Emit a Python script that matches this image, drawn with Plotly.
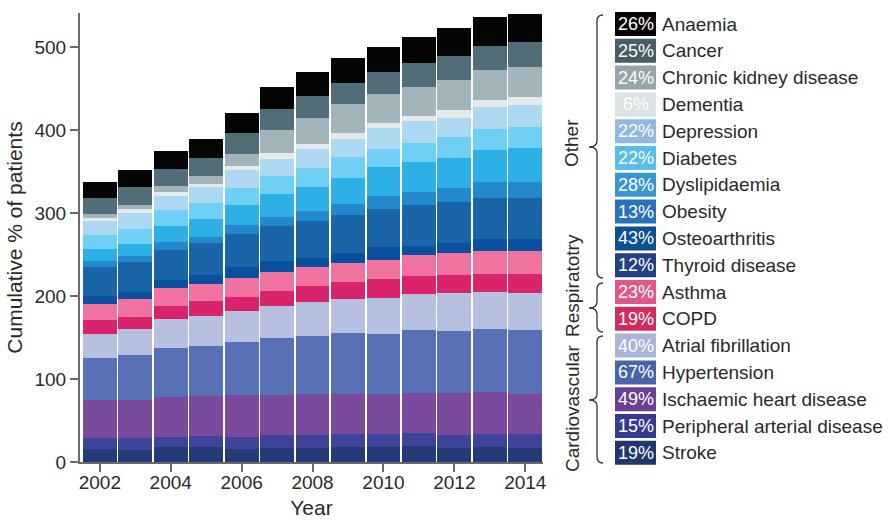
import plotly.graph_objects as go

# ---- data -------------------------------------------------------------
years = list(range(2002, 2015))

stroke = [15.7, 14.5, 18.1, 18.1, 15.7, 16.9, 16.9, 18.1, 18.1, 19.3, 16.9, 18.1, 16.9]
peripheral_arterial = [13.2, 14.4, 12.0, 13.2, 14.4, 15.6, 15.6, 15.6, 15.6, 15.6, 15.6, 15.6, 16.8]
ischaemic_heart = [45.8, 45.8, 48.2, 48.2, 50.6, 48.2, 49.4, 48.2, 48.2, 48.2, 50.6, 50.6, 48.2]
hypertension = [50.6, 54.2, 59.0, 60.3, 63.9, 68.7, 69.9, 73.5, 72.3, 75.9, 74.7, 75.9, 77.1]
atrial_fibrillation = [28.9, 31.3, 35.0, 36.1, 37.3, 38.6, 41.0, 41.0, 43.4, 43.4, 45.8, 44.6, 44.6]
copd = [16.9, 14.5, 15.7, 18.1, 16.9, 18.0, 19.2, 20.5, 22.9, 21.7, 21.7, 21.7, 22.9]
asthma = [19.3, 21.7, 21.6, 20.5, 22.9, 22.9, 22.9, 22.9, 22.9, 25.3, 26.5, 27.7, 27.7]
thyroid = [9.6, 8.4, 9.7, 10.8, 13.2, 13.3, 10.9, 12.0, 15.6, 10.8, 12.1, 14.5, 14.5]
osteoarthritis = [34.9, 36.2, 36.1, 38.6, 39.8, 42.1, 44.6, 45.8, 45.8, 49.4, 49.4, 49.4, 49.4]
obesity = [7.3, 7.2, 9.6, 7.2, 10.8, 10.9, 12.0, 13.2, 15.7, 15.7, 16.8, 19.2, 19.2]
dyslipidaemia = [14.4, 14.5, 19.3, 21.7, 24.1, 27.7, 28.9, 31.4, 34.9, 36.1, 36.2, 38.6, 41.0]
diabetes = [16.9, 18.0, 19.3, 19.2, 20.5, 21.7, 22.9, 25.3, 21.7, 22.9, 25.3, 25.3, 25.3]
depression = [16.9, 19.3, 16.9, 19.3, 21.7, 20.5, 22.9, 21.7, 25.3, 26.5, 22.9, 26.5, 26.5]
dementia = [3.6, 4.8, 4.8, 3.6, 4.8, 7.2, 6.0, 7.2, 6.0, 6.1, 9.6, 8.4, 9.7]
chronic_kidney = [4.8, 4.8, 7.2, 9.7, 14.5, 27.7, 31.4, 34.9, 35.0, 34.9, 36.1, 36.2, 36.1]
cancer = [19.3, 21.7, 20.5, 21.7, 25.3, 25.3, 26.5, 25.3, 26.5, 28.9, 29.0, 28.9, 30.1]
anaemia = [19.2, 20.5, 21.7, 22.9, 24.1, 26.5, 28.9, 30.1, 30.1, 31.3, 33.7, 34.9, 33.8]

# stacking order, bottom to top
series_names = [
    "Stroke", "Peripheral arterial disease", "Ischaemic heart disease",
    "Hypertension", "Atrial fibrillation", "COPD", "Asthma", "Thyroid disease",
    "Osteoarthritis", "Obesity", "Dyslipidaemia", "Diabetes", "Depression",
    "Dementia", "Chronic kidney disease", "Cancer", "Anaemia",
]
series_values = [
    stroke, peripheral_arterial, ischaemic_heart, hypertension,
    atrial_fibrillation, copd, asthma, thyroid, osteoarthritis, obesity,
    dyslipidaemia, diabetes, depression, dementia, chronic_kidney, cancer,
    anaemia,
]
bar_colors = [
    "#253a78", "#3d4499", "#7a4a9c", "#5870b5", "#b7c0e0", "#d9246b",
    "#ef739e", "#0b50a0", "#1a65a8", "#2289cc", "#2cb0e6", "#6fcff5",
    "#acd8f2", "#e6e9ea", "#a3b5bb", "#516d78", "#050505",
]

# key entries, top to bottom
key_names = list(reversed(series_names))
key_percent = ["26%", "25%", "24%", "6%", "22%", "22%", "28%", "13%", "43%",
               "12%", "23%", "19%", "40%", "67%", "49%", "15%", "19%"]
key_colors = [
    "#050505", "#455e68", "#95a7ad", "#dde2e4", "#8fb9e0", "#56bdec",
    "#3a95d4", "#2672bb", "#0d4f8f", "#243f84", "#e0578a", "#d42a5c",
    "#abb4dc", "#4a63ad", "#6a3f96", "#333a8f", "#23376e",
]
groups = ["Other", "Respiratotry", "Cardiovascular"]

# ---- layout geometry (pixels) ---------------------------------------
W, H = 888, 520
L, R, T, B = 80, 345, 13, 58
plot_w = W - L - R
plot_h = H - T - B


def px(x):
    return (x - L) / plot_w


def py(y):
    return (H - B - y) / plot_h


FONT = "Liberation Sans, Arial, Helvetica, sans-serif"
TEXT = "#2a2a2a"

fig = go.Figure()
for name, vals, col in zip(series_names, series_values, bar_colors):
    fig.add_trace(go.Bar(
        x=years, y=vals, name=name, marker=dict(color=col, line=dict(width=0)),
        showlegend=False,
    ))

shapes = []
annotations = []

# key: coloured boxes with percentages and names
row0, row_step = 24, 26.8
for i, (nm, pc, col) in enumerate(zip(key_names, key_percent, key_colors)):
    cy = row0 + i * row_step
    shapes.append(dict(
        type="rect", xref="paper", yref="paper",
        x0=px(615), x1=px(656), y0=py(cy + 12), y1=py(cy - 12),
        fillcolor=col, line=dict(width=0),
    ))
    annotations.append(dict(
        xref="paper", yref="paper", x=px(635.5), y=py(cy), text=pc,
        showarrow=False, xanchor="center", yanchor="middle",
        font=dict(family=FONT, size=18, color="white"),
    ))
    annotations.append(dict(
        xref="paper", yref="paper", x=px(660), y=py(cy), text=nm,
        showarrow=False, xanchor="left", yanchor="middle",
        font=dict(family=FONT, size=19, color=TEXT),
    ))

# curly braces grouping the key rows
def brace(top, bottom, tip):
    xv, xe, xt = 597, 603, 589
    pts = [
        f"M {px(xe)},{py(top)}",
        f"Q {px(xv)},{py(top)} {px(xv)},{py(top + 6)}",
        f"L {px(xv)},{py(tip - 6)}",
        f"Q {px(xv)},{py(tip)} {px(xt)},{py(tip)}",
        f"Q {px(xv)},{py(tip)} {px(xv)},{py(tip + 6)}",
        f"L {px(xv)},{py(bottom - 6)}",
        f"Q {px(xv)},{py(bottom)} {px(xe)},{py(bottom)}",
    ]
    return dict(type="path", xref="paper", yref="paper", path=" ".join(pts),
                line=dict(color="#333333", width=1.3))


brace_spans = [(15, 278, 147), (283, 332, 308), (336, 463, 400)]
label_centres = [143, 286, 409]
for (top, bot, tip), g, cy in zip(brace_spans, groups, label_centres):
    shapes.append(brace(top, bot, tip))
    annotations.append(dict(
        xref="paper", yref="paper", x=px(572), y=py(cy), text=g,
        showarrow=False, textangle=-90, xanchor="center", yanchor="middle",
        font=dict(family=FONT, size=19, color=TEXT),
    ))

fig.update_layout(
    width=W, height=H,
    margin=dict(l=L, r=R, t=T, b=B, pad=0),
    barmode="stack", bargap=0.045,
    plot_bgcolor="white", paper_bgcolor="white",
    font=dict(family=FONT, size=19, color=TEXT),
    shapes=shapes, annotations=annotations,
    xaxis=dict(
        range=[2001.44, 2014.5], tickvals=list(range(2002, 2015, 2)),
        automargin=False, ticklabelstandoff=-6,
        showgrid=False, zeroline=False, showline=True, linecolor="#6a6a6a",
        linewidth=2, ticks="outside", ticklen=8, tickwidth=2,
        tickcolor="#6a6a6a", tickfont=dict(size=19, color=TEXT),
        title=dict(text="Year", font=dict(size=21, color=TEXT), standoff=9),
    ),
    yaxis=dict(
        range=[0, 541], tickvals=[0, 100, 200, 300, 400, 500],
        automargin=False,
        showgrid=False, zeroline=False, showline=True, linecolor="#6a6a6a",
        linewidth=2, ticks="outside", ticklen=8, tickwidth=2,
        tickcolor="#6a6a6a", tickfont=dict(size=19, color=TEXT),
        title=dict(text="Cumulative % of patients",
                   font=dict(size=21, color=TEXT), standoff=6),
    ),
)

fig.write_html("out.html")
